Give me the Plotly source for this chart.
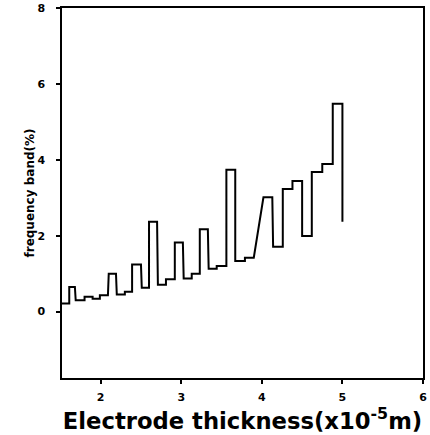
import plotly.graph_objects as go

# Step segments: start x, end x, level (%)
seg_start = [1.51, 1.61, 1.69, 1.80, 1.90, 1.99, 2.10, 2.20, 2.30, 2.39, 2.51, 2.60, 2.71, 2.81,
             2.92, 3.03, 3.13, 3.23, 3.34, 3.44, 3.56, 3.67, 3.79, 4.02, 4.14, 4.26, 4.38, 4.50,
             4.62, 4.75, 4.88]
seg_end = [1.61, 1.68, 1.80, 1.90, 1.99, 2.09, 2.19, 2.30, 2.39, 2.50, 2.60, 2.70, 2.81, 2.92,
           3.02, 3.13, 3.23, 3.33, 3.44, 3.56, 3.67, 3.79, 3.90, 4.13, 4.26, 4.38, 4.50, 4.62,
           4.75, 4.88, 5.00]
seg_level = [0.21, 0.65, 0.30, 0.39, 0.34, 0.43, 1.00, 0.45, 0.52, 1.24, 0.63, 2.37, 0.71, 0.85,
             1.82, 0.87, 1.00, 2.17, 1.13, 1.20, 3.74, 1.33, 1.42, 3.01, 1.71, 3.23, 3.44, 1.99,
             3.68, 3.89, 5.48]
tail_x = [5.00]
tail_y = [2.37]

xs, ys = [], []
for a, b, v in zip(seg_start, seg_end, seg_level):
    xs += [a, b]
    ys += [v, v]
xs += tail_x
ys += tail_y

x_ticks = [2, 3, 4, 5, 6]
y_ticks = [0, 2, 4, 6, 8]

fig = go.Figure()
fig.add_trace(go.Scatter(x=xs, y=ys, mode="lines",
                         line=dict(color="black", width=2), showlegend=False))

font_fam = "DejaVu Sans"
fig.update_layout(
    width=430, height=435,
    margin=dict(l=62, r=7, t=8, b=57),
    plot_bgcolor="white", paper_bgcolor="white",
    font=dict(family=font_fam, color="black"),
)
fig.update_xaxes(
    range=[1.52, 6], tickvals=x_ticks, ticktext=[f"<b>{v}</b>" for v in x_ticks],
    showgrid=False, zeroline=False, showline=True, linecolor="black", linewidth=1.5,
    mirror=True, ticks="outside", ticklen=4, tickwidth=1.5, tickcolor="black",
    tickfont=dict(size=11, family=font_fam), ticklabelstandoff=4,
    automargin=False,
    title=dict(text="<b>Electrode thickness(x10<sup>-5</sup>m)</b>",
               font=dict(size=22.7, family=font_fam), standoff=10),
)
fig.update_yaxes(
    range=[-1.75, 8], tickvals=y_ticks, ticktext=[f"<b>{v}</b>" for v in y_ticks],
    showgrid=False, zeroline=False, showline=True, linecolor="black", linewidth=1.5,
    mirror=True, ticks="outside", ticklen=4, tickwidth=1.5, tickcolor="black",
    tickfont=dict(size=11, family=font_fam), ticklabelstandoff=9,
    automargin=False,
    title=dict(text="<b>frequency band(%)</b>", font=dict(size=12, family=font_fam), standoff=0),
)

fig.write_html("out.html", config={"displayModeBar": False},
               post_script="document.body.style.margin='0';document.body.style.overflow='hidden';")
